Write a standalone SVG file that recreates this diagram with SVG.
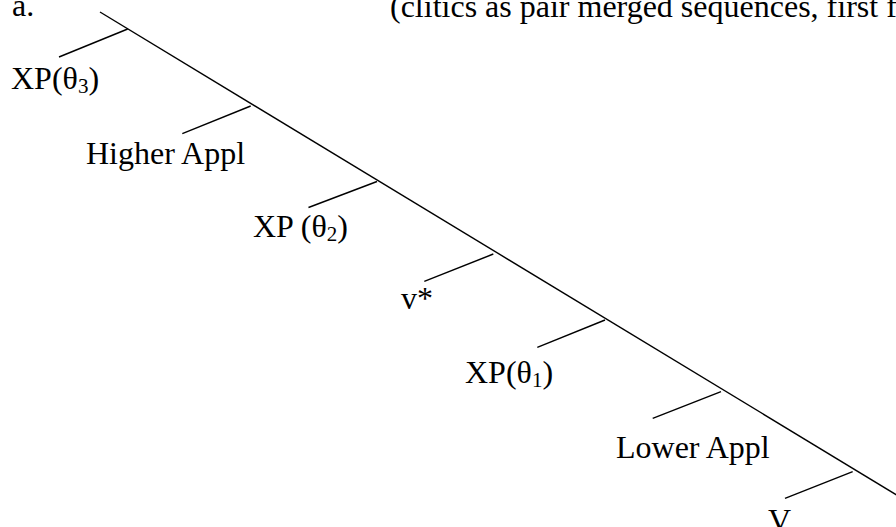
<svg xmlns="http://www.w3.org/2000/svg" width="896" height="527" viewBox="0 0 896 527">
<style>
text{font-family:"Liberation Serif","Times New Roman",serif;font-size:32px;fill:#000}
.sub{font-size:21px}
line{stroke:#000;stroke-width:1.4;stroke-linecap:butt}
</style>
<rect width="896" height="527" fill="#fff"/>
<text id="label-a" x="12" y="16">a.</text>
<text id="caption" x="390" y="17">(clitics as pair merged sequences, first f</text>
<g id="connectors">
<line x1="100" y1="12" x2="900" y2="497"/>
<line x1="127.7" y1="29" x2="59" y2="57"/>
<line x1="250.7" y1="106" x2="182.3" y2="133.7"/>
<line x1="377" y1="181.5" x2="308.5" y2="207.5"/>
<line x1="493.3" y1="254" x2="424.3" y2="281.3"/>
<line x1="605" y1="320" x2="537.3" y2="347.3"/>
<line x1="721" y1="391.7" x2="652.7" y2="418.3"/>
<line x1="852.7" y1="471.7" x2="785" y2="498.3"/>
</g>
<g id="n-xp3"><text x="11" y="89">XP(θ<tspan class="sub" dy="4">3</tspan><tspan dy="-4">)</tspan></text></g>
<g id="n-higher"><text x="86" y="164">Higher Appl</text></g>
<g id="n-xp2"><text x="253" y="237">XP (θ<tspan class="sub" dy="4">2</tspan><tspan dy="-4">)</tspan></text></g>
<g id="n-vstar"><text x="401" y="309">v*</text></g>
<g id="n-xp1"><text x="465" y="383">XP(θ<tspan class="sub" dy="4">1</tspan><tspan dy="-4">)</tspan></text></g>
<g id="n-lower"><text x="616" y="458">Lower Appl</text></g>
<g id="n-v"><text x="768" y="531">V</text></g>
</svg>
